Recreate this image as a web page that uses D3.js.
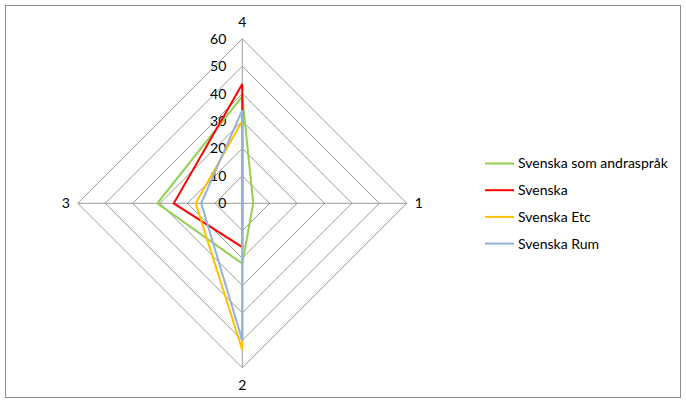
<!DOCTYPE html>
<html>
<head>
<meta charset="utf-8">
<script src="https://cdn.jsdelivr.net/npm/d3@7"></script>
<style>
  body { margin: 0; background: #fff; }
  svg text { font-family: Lato, "Open Sans", "Liberation Sans", sans-serif; fill: #000; }
</style>
</head>
<body>
<div id="graphic"></div>
<script>
// categories in clockwise order, starting at the top
var categories = ["4", "1", "2", "3"];
var ticks = [0, 10, 20, 30, 40, 50, 60];

var seriesNames = ["Svenska som andraspråk", "Svenska", "Svenska Etc", "Svenska Rum"];
var andrasprak = [39, 4, 22, 31];
var svenska = [43.5, 0, 16, 25];
var svenskaEtc = [30, 0, 53.5, 17];
var svenskaRum = [34, 0, 50, 15];

var colors = ["#92D050", "#FF0000", "#FFC000", "#95B3D7"];

var width = 686;
var height = 403;
var cx = 242.3;
var cy = 203.3;
var radius = 164.5;

var svg = d3.select("#graphic")
  .append("svg")
  .attr("width", width)
  .attr("height", height);

svg.append("rect")
  .attr("x", 5.5).attr("y", 5.5)
  .attr("width", 675).attr("height", 392)
  .attr("fill", "#fff")
  .attr("stroke", "#8c8c8c");

var rScale = d3.scaleLinear().domain([0, 60]).range([0, radius]);
var angle = d3.scalePoint().domain(d3.range(categories.length + 1)).range([0, 2 * Math.PI]);

var g = svg.append("g").attr("transform", "translate(" + cx + "," + cy + ")");

var radial = d3.lineRadial()
  .angle(function(d, i) { return angle(i % categories.length); })
  .radius(function(d) { return rScale(d); });

// grid rings
ticks.slice(1).forEach(function(t) {
  g.append("path")
    .attr("d", radial(categories.map(function() { return t; }).concat([t])))
    .attr("fill", "none")
    .attr("stroke", "#999")
    .attr("stroke-width", 1);
});

// spokes
categories.forEach(function(c, i) {
  var a = angle(i);
  g.append("line")
    .attr("x1", 0).attr("y1", 0)
    .attr("x2", rScale(60) * Math.sin(a))
    .attr("y2", -rScale(60) * Math.cos(a))
    .attr("stroke", "#999");
  g.append("text")
    .attr("x", (rScale(60) + 12) * Math.sin(a))
    .attr("y", -(rScale(60) + 17) * Math.cos(a))
    .attr("dy", "0.35em")
    .attr("text-anchor", "middle")
    .style("font-size", "14px")
    .text(c);
});

// tick labels along the top axis
ticks.forEach(function(t) {
  g.append("text")
    .attr("x", -16)
    .attr("y", -rScale(t))
    .attr("dy", "0.35em")
    .attr("text-anchor", "end")
    .style("font-size", "14px")
    .text(t);
});

var allSeries = [andrasprak, svenska, svenskaEtc, svenskaRum];

allSeries.forEach(function(values, k) {
  g.append("path")
    .datum(values.concat([values[0]]))
    .attr("d", radial)
    .attr("fill", "none")
    .attr("stroke", colors[k])
    .attr("stroke-width", 2)
    .attr("stroke-linejoin", "miter");
});

// legend
var legend = svg.append("g").attr("transform", "translate(485, 163.5)");
seriesNames.forEach(function(name, k) {
  var row = legend.append("g").attr("transform", "translate(0," + (k * 26.7) + ")");
  row.append("line")
    .attr("x1", 0).attr("x2", 29)
    .attr("stroke", colors[k])
    .attr("stroke-width", 2);
  row.append("text")
    .attr("x", 33)
    .attr("dy", "0.35em")
    .style("font-size", "14px")
    .text(name);
});
</script>
</body>
</html>
